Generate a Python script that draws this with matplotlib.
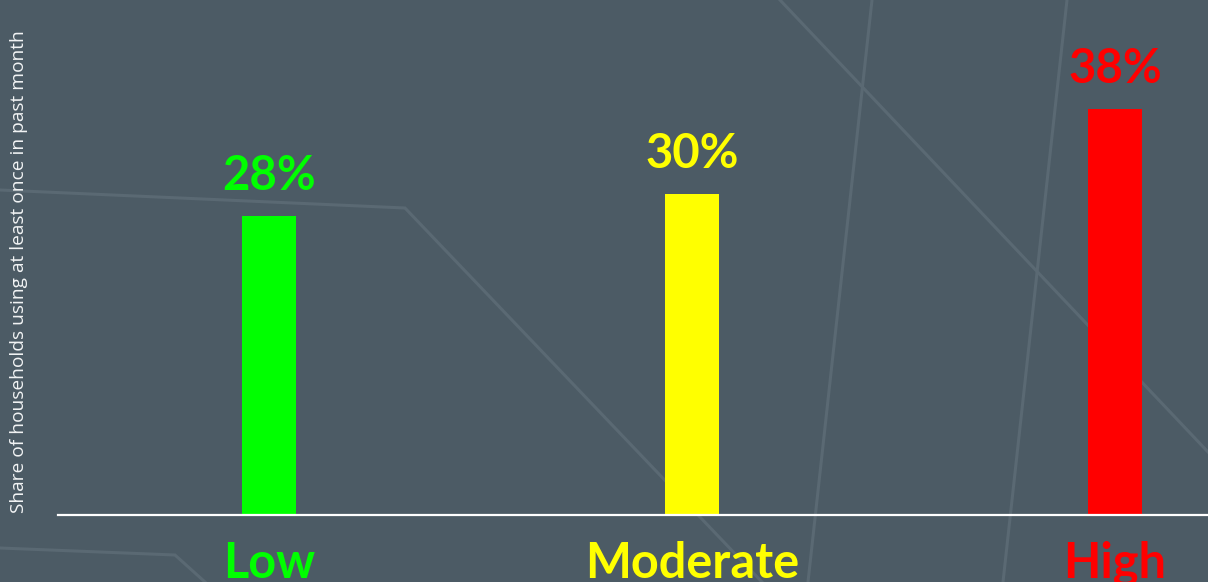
import matplotlib.pyplot as plt
from matplotlib.lines import Line2D

# data
categories = ['Low', 'Moderate', 'High']
shares = [28, 30, 38]
bar_colors = ['#00ff00', '#ffff00', '#ff0000']
y_label = 'Share of households using at least once in past month'

bg = '#4c5b65'
deco = '#5a6973'
W, H = 1208, 582

# background decoration (pixel paths, y from top)
deco_paths = [
    [(0, 190), (405, 208), (762, 582)],
    [(0, 548), (175, 555), (205, 582)],
    [(780, 0), (1208, 452)],
    [(872, 0), (808, 582)],
    [(1067, 0), (1003, 582)],
]

fig = plt.figure(figsize=(W / 100, H / 100), dpi=100, facecolor=bg)
for path in deco_paths:
    xs = [p[0] / W for p in path]
    ys = [1 - p[1] / H for p in path]
    fig.add_artist(Line2D(xs, ys, transform=fig.transFigure, color=deco,
                          lw=2.2, zorder=0, solid_joinstyle='miter'))

ax = fig.add_axes([58 / W, (H - 515) / H, (W - 58) / W, 515 / H])
ax.set_zorder(1)
ax.patch.set_alpha(0)

x = range(len(categories))
ax.bar(x, shares, width=0.128, color=bar_colors, zorder=2)
ax.set_xlim(-0.5, 2.22)
ax.set_ylim(0, 48.2)

for i, v in enumerate(shares):
    ax.annotate(f'{v}%', xy=(i, v), xytext=(0, 26), textcoords='offset pixels',
                ha='center', va='baseline', fontsize=34, fontweight='bold',
                family='Lato', color=bar_colors[i])
    ax.annotate(categories[i], xy=(i, 0), xytext=(0, -63), textcoords='offset pixels',
                ha='center', va='baseline', fontsize=35, fontweight='bold',
                family='Lato', color=bar_colors[i], annotation_clip=False)

for s in ['top', 'right', 'left']:
    ax.spines[s].set_visible(False)
ax.spines['bottom'].set_color('white')
ax.spines['bottom'].set_linewidth(1.6)
ax.set_xticks([])
ax.set_yticks([])

fig.text(19 / W, 1 - 272 / H, y_label, rotation=90, ha='center', va='center',
         fontsize=13.8, family='Open Sans', color='#f2f4f5')

fig.savefig('out.png', dpi=100, facecolor=bg)
